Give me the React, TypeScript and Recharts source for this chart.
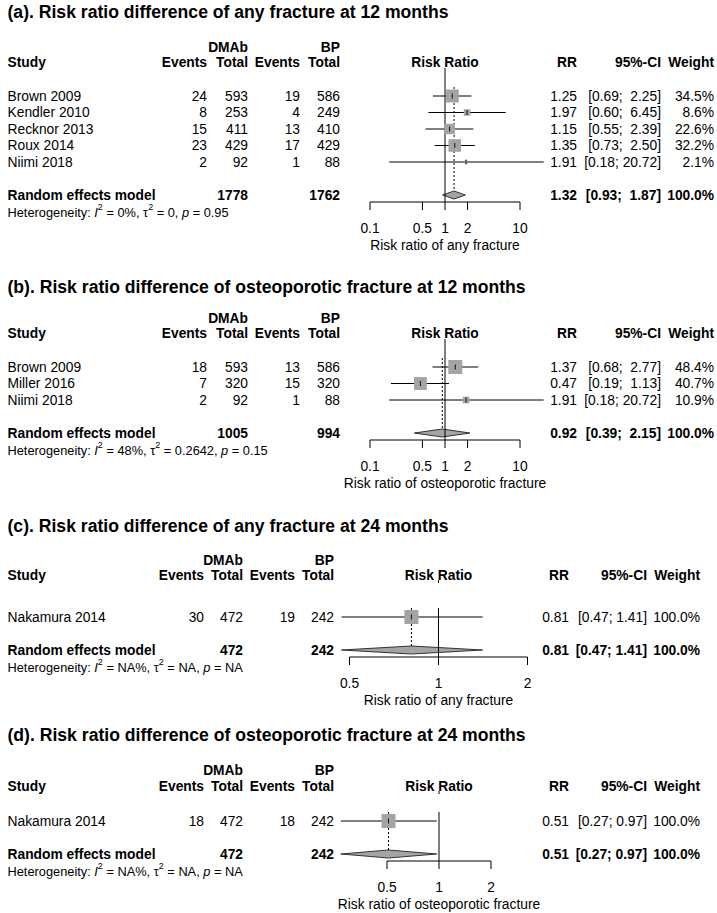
import React from 'react';
import { ComposedChart, Scatter, Area, XAxis, YAxis } from 'recharts';

const FONT = '"Liberation Sans", Arial, Helvetica, sans-serif';

// ---------- Panel (a) ----------
const titleA = '(a). Risk ratio difference of any fracture at 12 months';
const studiesA = ['Brown 2009', 'Kendler 2010', 'Recknor 2013', 'Roux 2014', 'Niimi 2018'];
const eventsDA = [24, 8, 15, 23, 2];
const totalDA = [593, 253, 411, 429, 92];
const eventsBA = [19, 4, 13, 17, 1];
const totalBA = [586, 249, 410, 429, 88];
const rrA = [1.25, 1.97, 1.15, 1.35, 1.91];
const lowA = [0.69, 0.6, 0.55, 0.73, 0.18];
const highA = [2.25, 6.45, 2.39, 2.5, 20.72];
const weightA = [34.5, 8.6, 22.6, 32.2, 2.1];
const pooledA = [1.32, 0.93, 1.87];
const pooledTotalsA = [1778, 1762];
const hetA = ['0', '0', '0.95'];
const ticksA = [0.1, 0.5, 1, 2, 10];
const xLabelA = 'Risk ratio of any fracture';

// ---------- Panel (b) ----------
const titleB = '(b). Risk ratio difference of osteoporotic fracture at 12 months';
const studiesB = ['Brown 2009', 'Miller 2016', 'Niimi 2018'];
const eventsDB = [18, 7, 2];
const totalDB = [593, 320, 92];
const eventsBB = [13, 15, 1];
const totalBB = [586, 320, 88];
const rrB = [1.37, 0.47, 1.91];
const lowB = [0.68, 0.19, 0.18];
const highB = [2.77, 1.13, 20.72];
const weightB = [48.4, 40.7, 10.9];
const pooledB = [0.92, 0.39, 2.15];
const pooledTotalsB = [1005, 994];
const hetB = ['48', '0.2642', '0.15'];
const ticksB = [0.1, 0.5, 1, 2, 10];
const xLabelB = 'Risk ratio of osteoporotic fracture';

// ---------- Panel (c) ----------
const titleC = '(c). Risk ratio difference of any fracture at 24 months';
const studiesC = ['Nakamura 2014'];
const eventsDC = [30];
const totalDC = [472];
const eventsBC = [19];
const totalBC = [242];
const rrC = [0.81];
const lowC = [0.47];
const highC = [1.41];
const weightC = [100.0];
const pooledC = [0.81, 0.47, 1.41];
const pooledTotalsC = [472, 242];
const hetC = ['NA', 'NA', 'NA'];
const ticksC = [0.5, 1, 2];
const xLabelC = 'Risk ratio of any fracture';

// ---------- Panel (d) ----------
const titleD = '(d). Risk ratio difference of osteoporotic fracture at 24 months';
const studiesD = ['Nakamura 2014'];
const eventsDD = [18];
const totalDD = [472];
const eventsBD = [18];
const totalBD = [242];
const rrD = [0.51];
const lowD = [0.27];
const highD = [0.97];
const weightD = [100.0];
const pooledD = [0.51, 0.27, 0.97];
const pooledTotalsD = [472, 242];
const hetD = ['NA', 'NA', 'NA'];
const ticksD = [0.5, 1, 2];
const xLabelD = 'Risk ratio of osteoporotic fracture';

type PanelData = {
  title: string;
  studies: string[];
  evD: number[];
  totD: number[];
  evB: number[];
  totB: number[];
  rr: number[];
  low: number[];
  high: number[];
  weight: number[];
  pooled: number[];
  pooledTotals: number[];
  het: string[];
  ticks: number[];
  xLabel: string;
};

const panelA: PanelData = { title: titleA, studies: studiesA, evD: eventsDA, totD: totalDA, evB: eventsBA, totB: totalBA, rr: rrA, low: lowA, high: highA, weight: weightA, pooled: pooledA, pooledTotals: pooledTotalsA, het: hetA, ticks: ticksA, xLabel: xLabelA };
const panelB: PanelData = { title: titleB, studies: studiesB, evD: eventsDB, totD: totalDB, evB: eventsBB, totB: totalBB, rr: rrB, low: lowB, high: highB, weight: weightB, pooled: pooledB, pooledTotals: pooledTotalsB, het: hetB, ticks: ticksB, xLabel: xLabelB };
const panelC: PanelData = { title: titleC, studies: studiesC, evD: eventsDC, totD: totalDC, evB: eventsBC, totB: totalBC, rr: rrC, low: lowC, high: highC, weight: weightC, pooled: pooledC, pooledTotals: pooledTotalsC, het: hetC, ticks: ticksC, xLabel: xLabelC };
const panelD: PanelData = { title: titleD, studies: studiesD, evD: eventsDD, totD: totalDD, evB: eventsBD, totB: totalBD, rr: rrD, low: lowD, high: highD, weight: weightD, pooled: pooledD, pooledTotals: pooledTotalsD, het: hetD, ticks: ticksD, xLabel: xLabelD };

// ---------- Layout (positions & styles) ----------
const ROW_H = 16.5;
const DIAMOND_HALF = 4;
const SQUARE_FILL = '#a4a4a4';
const DIAMOND_FILL = '#a4a4a4';
const BODY = 13.8;

const colsWide = { ev1: 207, tot1: 248, ev2: 300, tot2: 340, rr: 577, ciR: 661, w: 714 };
const colsNarrow = { ev1: 204, tot1: 243, ev2: 295, tot2: 334, rr: 569, ciR: 647, w: 700 };

type Layout = {
  title: number; hdr1: number; hdr2: number; row0: number;
  x1: number; ppd: number; lo: number; hi: number; maxSide: number;
  cols: typeof colsWide; gap: boolean;
};

const layoutA: Layout = { title: 12, hdr1: 47, hdr2: 62, row0: 96, x1: 445, ppd: 75, lo: 0.1, hi: 25, maxSide: 13, cols: colsWide, gap: false };
const layoutB: Layout = { title: 287, hdr1: 318, hdr2: 333, row0: 367, x1: 445, ppd: 75, lo: 0.1, hi: 25, maxSide: 14, cols: colsWide, gap: false };
const layoutC: Layout = { title: 526, hdr1: 560, hdr2: 575, row0: 617, x1: 438.5, ppd: 295.7, lo: 0.4, hi: 2.5, maxSide: 14, cols: colsNarrow, gap: true };
const layoutD: Layout = { title: 735, hdr1: 770, hdr2: 786, row0: 821, x1: 439, ppd: 172.7, lo: 0.25, hi: 2.5, maxSide: 14, cols: colsNarrow, gap: true };

const T = ({ x, y, anchor = 'start', bold = false, size = BODY, children }: any) => (
  <text
    x={x}
    y={y}
    textAnchor={anchor}
    fontWeight={bold ? 'bold' : 'normal'}
    fontSize={size}
    dominantBaseline="central"
    fontFamily={FONT}
    fill="#000"
    style={{ whiteSpace: 'pre' }}
  >
    {children}
  </text>
);

const noShape = () => <g />;

function Panel({ d, L }: { d: PanelData; L: Layout }) {
  const n = d.studies.length;
  const reIdx = n + 1;
  const rowPx = (i: number) => L.row0 + i * ROW_H;
  const reY = rowPx(reIdx);
  const axisPx = reY + 7;
  const topPx = L.hdr2 + 5;
  const toRow = (p: number) => (p - L.row0) / ROW_H;
  const yLo = toRow(topPx);
  const yHi = toRow(axisPx);
  const px = (v: number) => L.x1 + L.ppd * Math.log10(v);
  const left = px(L.lo);
  const right = 717 - px(L.hi);
  const chartH = axisPx - topPx + 50;
  const dh = DIAMOND_HALF / ROW_H;
  const [est, pLow, pHigh] = d.pooled;
  const diamond = [
    { x: pLow, band: [reIdx, reIdx] },
    { x: est, band: [reIdx - dh, reIdx + dh] },
    { x: pHigh, band: [reIdx, reIdx] },
  ];
  const squares = d.studies.map((_, i) => ({ x: d.rr[i], y: i, w: d.weight[i] }));
  const maxW = Math.max(...d.weight);
  const nullTop = L.gap ? toRow(L.row0 - 9) : toRow(L.hdr2 + 6);
  const dottedTop = toRow(L.row0 - 9);
  const C = L.cols;

  // R-style padded CI strings (upper limit padded to common width)
  const hiWidth = Math.max(...[...d.high, pHigh].map((v) => v.toFixed(2).length));
  const ciString = (lo: number, hi: number) =>
    `[${lo.toFixed(2)}; ${hi.toFixed(2).padStart(hiWidth, ' ')}]`;

  const squareShape = (props: any) => {
    const { cx, cy, payload } = props;
    const s = L.maxSide * Math.sqrt(payload.w / maxW);
    return (
      <g>
        <rect x={cx - s / 2} y={cy - s / 2} width={s} height={s} fill={SQUARE_FILL} />
        <line x1={cx} x2={cx} y1={cy - 2.5} y2={cy + 2.5} stroke="#000" strokeWidth={0.9} />
      </g>
    );
  };

  const lineProps = { stroke: '#000', strokeWidth: 1 };
  const hetY = reY + 16.5;
  const supSize = 9;

  return (
    <>
      <div style={{ position: 'absolute', left: 0, top: topPx }}>
        <ComposedChart
          width={717}
          height={chartH}
          data={diamond}
          margin={{ top: 0, bottom: 0, left, right }}
        >
          <XAxis
            type="number"
            dataKey="x"
            scale="log"
            domain={[L.lo, L.hi]}
            ticks={d.ticks}
            interval={0}
            axisLine={false}
            tickLine={{ stroke: '#000', strokeWidth: 1 }}
            tickSize={8}
            tickMargin={13}
            height={50}
            tick={{ fontSize: BODY, fill: '#000', fontFamily: FONT }}
          />
          <YAxis type="number" dataKey="y" domain={[yLo, yHi]} reversed hide />
          {/* line of no effect */}
          <Scatter
            data={[{ x: 1, y: nullTop }, { x: 1, y: yHi }]}
            line={lineProps}
            shape={noShape}
            fill="#000"
            isAnimationActive={false}
          />
          {L.gap && (
            <Scatter
              data={[{ x: 1, y: yLo }, { x: 1, y: yLo + 3 / ROW_H }]}
              line={lineProps}
              shape={noShape}
              fill="#000"
              isAnimationActive={false}
            />
          )}
          {/* pooled estimate dotted line */}
          <Scatter
            data={[{ x: est, y: dottedTop }, { x: est, y: reIdx - dh }]}
            line={{ stroke: '#000', strokeWidth: 1, strokeDasharray: '2 2' }}
            shape={noShape}
            fill="#000"
            isAnimationActive={false}
          />
          {/* confidence intervals */}
          {d.studies.map((s, i) => (
            <Scatter
              key={s}
              data={[{ x: d.low[i], y: i }, { x: d.high[i], y: i }]}
              line={lineProps}
              shape={noShape}
              fill="#000"
              isAnimationActive={false}
            />
          ))}
          {/* study squares */}
          <Scatter data={squares} shape={squareShape} fill={SQUARE_FILL} isAnimationActive={false} />
          {/* axis line spanning tick range */}
          <Scatter
            data={[{ x: d.ticks[0], y: yHi }, { x: d.ticks[d.ticks.length - 1], y: yHi }]}
            line={lineProps}
            shape={noShape}
            fill="#000"
            isAnimationActive={false}
          />
          {/* pooled diamond */}
          <Area
            type="linear"
            dataKey="band"
            stroke="#333"
            strokeWidth={1}
            fill={DIAMOND_FILL}
            fillOpacity={1}
            dot={false}
            activeDot={false}
            isAnimationActive={false}
          />
        </ComposedChart>
      </div>
      <svg
        width={717}
        height={913}
        style={{ position: 'absolute', left: 0, top: 0, pointerEvents: 'none', overflow: 'visible' }}
      >
        <T x={7.5} y={L.title} bold size={17.6}>{d.title}</T>
        {/* headers */}
        <T x={C.tot1} y={L.hdr1} anchor="end" bold>DMAb</T>
        <T x={C.tot2} y={L.hdr1} anchor="end" bold>BP</T>
        <T x={7.5} y={L.hdr2} bold>Study</T>
        <T x={C.ev1} y={L.hdr2} anchor="end" bold>Events</T>
        <T x={C.tot1} y={L.hdr2} anchor="end" bold>Total</T>
        <T x={C.ev2} y={L.hdr2} anchor="end" bold>Events</T>
        <T x={C.tot2} y={L.hdr2} anchor="end" bold>Total</T>
        <T x={L.x1} y={L.hdr2} anchor="middle" bold>Risk Ratio</T>
        <T x={C.rr} y={L.hdr2} anchor="end" bold>RR</T>
        <T x={C.ciR} y={L.hdr2} anchor="end" bold>95%-CI</T>
        <T x={C.w} y={L.hdr2} anchor="end" bold>Weight</T>
        {/* study rows */}
        {d.studies.map((s, i) => {
          const y = rowPx(i);
          return (
            <g key={s}>
              <T x={7.5} y={y}>{s}</T>
              <T x={C.ev1} y={y} anchor="end">{d.evD[i]}</T>
              <T x={C.tot1} y={y} anchor="end">{d.totD[i]}</T>
              <T x={C.ev2} y={y} anchor="end">{d.evB[i]}</T>
              <T x={C.tot2} y={y} anchor="end">{d.totB[i]}</T>
              <T x={C.rr} y={y} anchor="end">{d.rr[i].toFixed(2)}</T>
              <T x={C.ciR} y={y} anchor="end">{ciString(d.low[i], d.high[i])}</T>
              <T x={C.w} y={y} anchor="end">{`${d.weight[i].toFixed(1)}%`}</T>
            </g>
          );
        })}
        {/* pooled row */}
        <T x={7.5} y={reY} bold>Random effects model</T>
        <T x={C.tot1} y={reY} anchor="end" bold>{d.pooledTotals[0]}</T>
        <T x={C.tot2} y={reY} anchor="end" bold>{d.pooledTotals[1]}</T>
        <T x={C.rr} y={reY} anchor="end" bold>{est.toFixed(2)}</T>
        <T x={C.ciR} y={reY} anchor="end" bold>{ciString(pLow, pHigh)}</T>
        <T x={C.w} y={reY} anchor="end" bold>100.0%</T>
        {/* heterogeneity */}
        <text x={7.5} y={hetY} fontSize={12.8} dominantBaseline="central" fontFamily={FONT} fill="#000">
          <tspan>{'Heterogeneity: '}</tspan>
          <tspan fontStyle="italic">I</tspan>
          <tspan dy={-5} fontSize={supSize}>2</tspan>
          <tspan dy={5}>{` = ${d.het[0]}%, \u03C4`}</tspan>
          <tspan dy={-5} fontSize={supSize}>2</tspan>
          <tspan dy={5}>{` = ${d.het[1]}, `}</tspan>
          <tspan fontStyle="italic">p</tspan>
          <tspan>{` = ${d.het[2]}`}</tspan>
        </text>
        {/* axis label */}
        <T x={L.x1} y={axisPx + 43} anchor="middle">{d.xLabel}</T>
      </svg>
    </>
  );
}

export default function App() {
  return (
    <div
      style={{
        position: 'absolute',
        left: 0,
        top: 0,
        width: 717,
        height: 913,
        background: '#fff',
        overflow: 'hidden',
      }}
    >
      <Panel d={panelA} L={layoutA} />
      <Panel d={panelB} L={layoutB} />
      <Panel d={panelC} L={layoutC} />
      <Panel d={panelD} L={layoutD} />
    </div>
  );
}
